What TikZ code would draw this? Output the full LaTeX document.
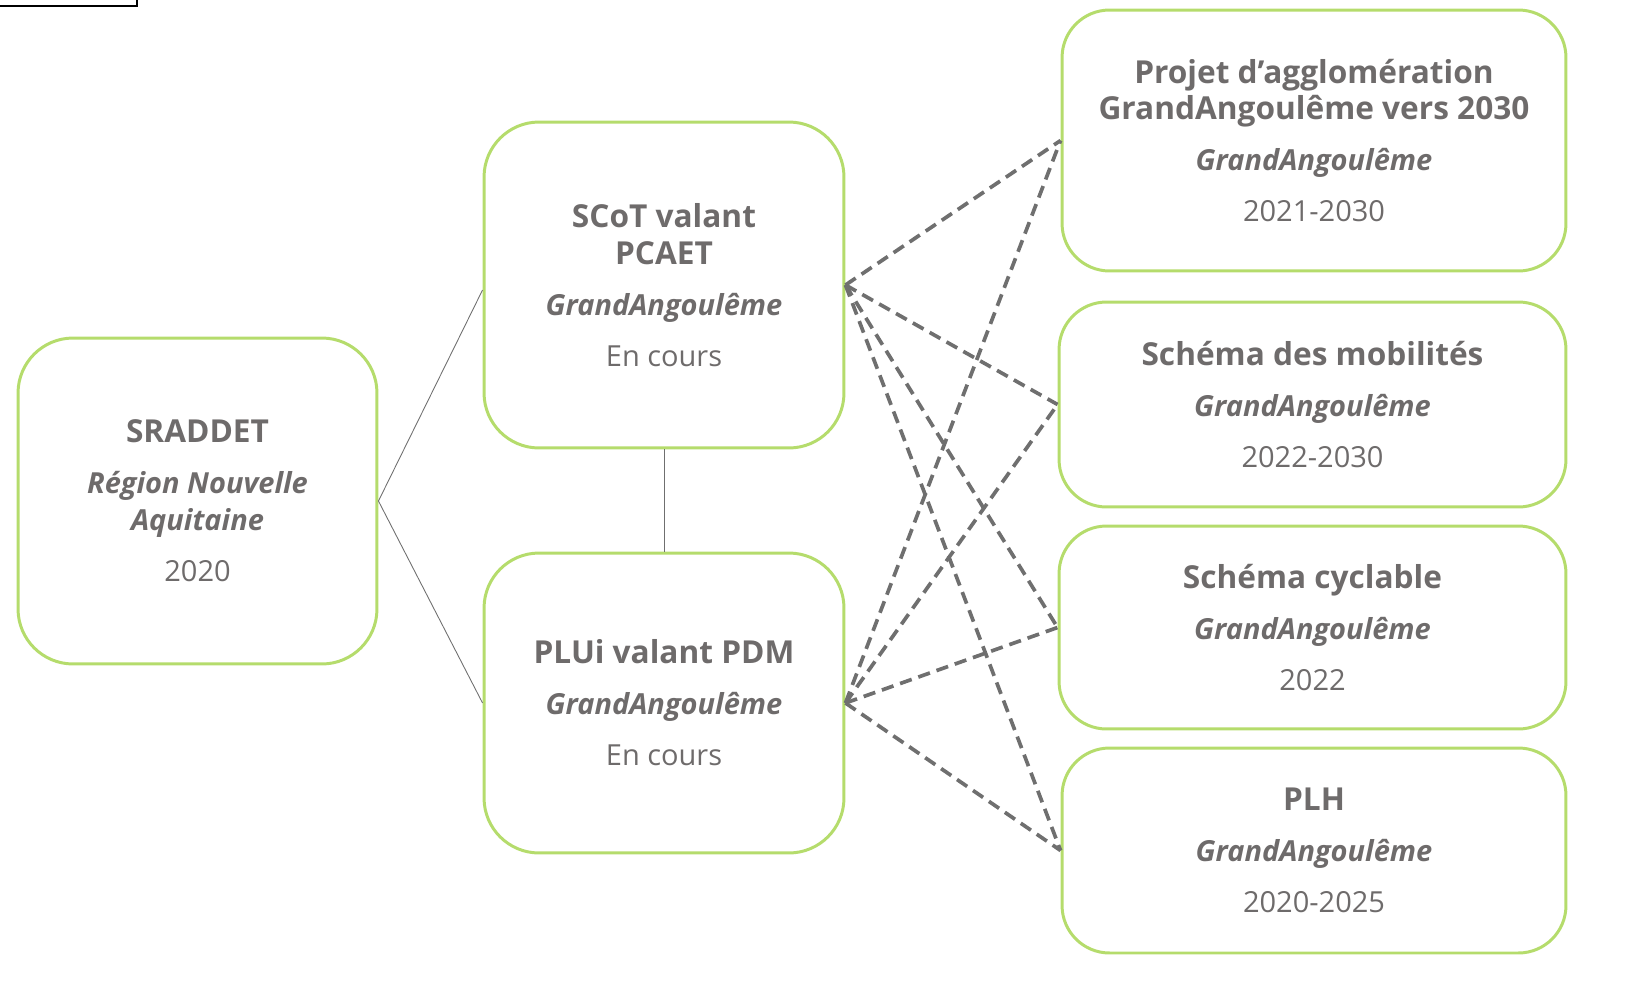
\documentclass[tikz,border=0pt]{standalone}
\usepackage{fontspec}
\setmainfont{Open Sans}
\usepackage{xcolor}
\definecolor{boxgreen}{HTML}{B5DC6C}
\definecolor{txtgray}{HTML}{6E6B6B}
\definecolor{linegray}{HTML}{6F6F6F}

\newcommand{\docname}[1]{{\fontsize{18}{21}\selectfont\bfseries #1}}
\newcommand{\docowner}[1]{{\fontsize{16.5}{20}\selectfont\bfseries\itshape #1}}
\newcommand{\docdate}[1]{{\fontsize{16.5}{21}\selectfont #1}}

\begin{document}
\begin{tikzpicture}[x=0.02cm,y=-0.02cm]
        % Define styles
        \tikzset{
            doc/.style={rectangle, draw=boxgreen, line width=1.7pt, rounded corners=1.1cm,
                text=txtgray, align=center, font=\fontsize{17}{21}\selectfont, inner sep=0pt},
            small doc/.style={doc, rounded corners=0.95cm},
            link/.style={draw=linegray, line width=0.5pt},
            dep/.style={draw=linegray, line width=2.1pt, dash pattern=on 7pt off 4pt}
        }
        \useasboundingbox (0,0) rectangle (1629,994);
        \draw[line width=1.2pt] (-10,-10) rectangle (137,6);

        % Nodes
        \node[doc, minimum width=7.18cm, minimum height=6.52cm] (sraddet) at (197.5,501)
            {\docname{SRADDET}\\[8pt]\docowner{Région Nouvelle}\\\docowner{Aquitaine}\\[8pt]\docdate{2020}};
        \node[doc, minimum width=7.2cm, minimum height=6.52cm] (scot) at (664,285)
            {\docname{SCoT valant}\\\docname{PCAET}\\[8pt]\docowner{GrandAngoulême}\\[8pt]\docdate{En cours}};
        \node[doc, minimum width=7.2cm, minimum height=6cm] (plui) at (664,703)
            {\docname{PLUi valant PDM}\\[8pt]\docowner{GrandAngoulême}\\[8pt]\docdate{En cours}};

        \node[small doc, minimum width=10.08cm, minimum height=5.22cm] (projet) at (1314,140.5)
            {\docname{Projet d’agglomération}\\\docname{GrandAngoulême vers 2030}\\[8pt]\docowner{GrandAngoulême}\\[8pt]\docdate{2021-2030}};
        \node[small doc, minimum width=10.14cm, minimum height=4.1cm] (mobilite) at (1312.5,404.5)
            {\docname{Schéma des mobilités}\\[8pt]\docowner{GrandAngoulême}\\[8pt]\docdate{2022-2030}};
        \node[small doc, minimum width=10.14cm, minimum height=4.06cm] (cyclable) at (1312.5,627.5)
            {\docname{Schéma cyclable}\\[8pt]\docowner{GrandAngoulême}\\[8pt]\docdate{2022}};
        \node[small doc, minimum width=10.08cm, minimum height=4.1cm] (plh) at (1314,850.5)
            {\docname{PLH}\\[8pt]\docowner{GrandAngoulême}\\[8pt]\docdate{2020-2025}};

        % Arrows
        \draw[link] (sraddet.east) -- ([yshift=-0.1cm]scot.west);
        \draw[link] (sraddet.east) -- (plui.west);
        \draw[link] (scot.south) -- (plui.north);

        \draw[dep] (scot.east) -- (projet.west);
        \draw[dep] (scot.east) -- (mobilite.west);
        \draw[dep] (scot.east) -- (cyclable.west);
        \draw[dep] (scot.east) -- (plh.west);
        \draw[dep] (plui.east) -- (projet.west);
        \draw[dep] (plui.east) -- (mobilite.west);
        \draw[dep] (plui.east) -- (cyclable.west);
        \draw[dep] (plui.east) -- (plh.west);
    \end{tikzpicture}
\end{document}
